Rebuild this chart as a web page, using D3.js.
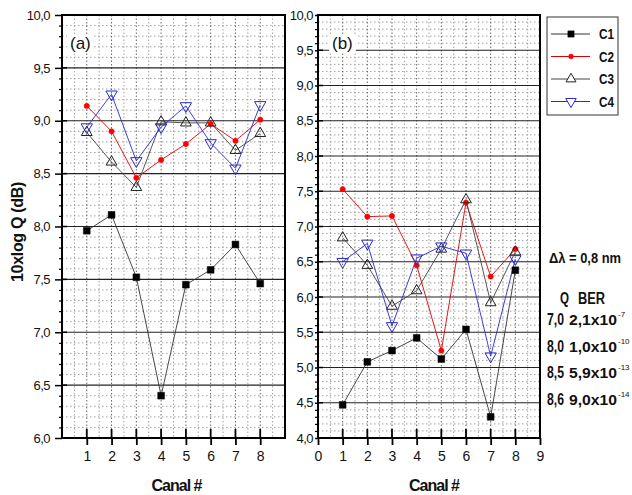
<!DOCTYPE html>
<html>
<head>
<meta charset="utf-8">
<script src="https://cdn.jsdelivr.net/npm/d3@7"></script>
<style>
  body { margin: 0; background: #fff; }
  svg, svg text { font-family: "Liberation Sans", Arial, sans-serif; }
</style>
</head>
<body>
<div id="chart"></div>
<script>
// values
const channels = [1, 2, 3, 4, 5, 6, 7, 8];
const seriesNames = ["C1", "C2", "C3", "C4"];

const c1a = [7.96, 8.11, 7.52, 6.40, 7.45, 7.59, 7.83, 7.46];
const c2a = [9.14, 8.90, 8.46, 8.63, 8.78, 8.97, 8.81, 9.01];
const c3a = [8.89, 8.61, 8.37, 8.99, 8.98, 8.98, 8.72, 8.88];
const c4a = [8.94, 9.25, 8.62, 8.94, 9.14, 8.79, 8.55, 9.15];

const c1b = [4.47, 5.08, 5.24, 5.42, 5.12, 5.54, 4.30, 6.38];
const c2b = [7.53, 7.14, 7.15, 6.45, 5.24, 7.34, 6.29, 6.68];
const c3b = [6.84, 6.45, 5.87, 6.09, 6.68, 7.38, 5.92, 6.64];
const c4b = [6.50, 6.76, 5.59, 6.55, 6.72, 6.62, 5.16, 6.54];

const yTicksA = [6.0, 6.5, 7.0, 7.5, 8.0, 8.5, 9.0, 9.5, 10.0];
const yTicksB = [4.0, 4.5, 5.0, 5.5, 6.0, 6.5, 7.0, 7.5, 8.0, 8.5, 9.0, 9.5, 10.0];
const xTicksA = [1, 2, 3, 4, 5, 6, 7, 8];
const xTicksB = [0, 1, 2, 3, 4, 5, 6, 7, 8, 9];

const deltaLambda = "0,8 nm";
const qValues = ["7,0", "8,0", "8,5", "8,6"];
const berMantissa = ["2,1x10", "1,0x10", "5,9x10", "9,0x10"];
const berExponent = ["-7", "-10", "-13", "-14"];

// styles per series
const seriesStyle = {
    C1: {line: "#333", stroke: "#000", fill: "#000", symbol: d3.symbolSquare, size: 46, rot: 0},
    C2: {line: "#e00000", stroke: "#ff0000", fill: "#ff0000", symbol: d3.symbolCircle, size: 22, rot: 0},
    C3: {line: "#444", stroke: "#222", fill: "none", symbol: d3.symbolTriangle, size: 50, rot: 0},
    C4: {line: "#2a2ad0", stroke: "#2a2ad0", fill: "none", symbol: d3.symbolTriangle, size: 56, rot: 180}
};

const font = "'Liberation Sans', Arial, sans-serif";
const width = 632, height = 495;
const plotTop = 15, plotBottom = 438;

const svg = d3.select("#chart").append("svg")
    .attr("width", width)
    .attr("height", height);

const fmt = d => d3.format(".1f")(d).replace(".", ",");

function drawPanel(p) {
    const x = d3.scaleLinear().domain([0, 9]).range([p.left, p.right]);
    const y = d3.scaleLinear().domain(p.yDomain).range([plotBottom, plotTop]);
    const g = svg.append("g");

    // minor horizontal grid every 0.1
    const minorY = d3.range(p.yDomain[0] * 10, p.yDomain[1] * 10 + 1)
        .map(d => d / 10)
        .filter(d => Math.round(d * 10) % 5 !== 0);
    g.selectAll(".minor-h").data(minorY).enter().append("line")
        .attr("x1", p.left).attr("x2", p.right)
        .attr("y1", d => y(d)).attr("y2", d => y(d))
        .attr("stroke", "#8a8a8a").attr("stroke-width", 0.8)
        .attr("stroke-dasharray", "1.5,2.5");

    // vertical dotted grid at halves and integers
    const halfX = d3.range(1, 18).map(d => d / 2);
    g.selectAll(".grid-v").data(halfX).enter().append("line")
        .attr("x1", d => x(d)).attr("x2", d => x(d))
        .attr("y1", plotTop).attr("y2", plotBottom)
        .attr("stroke", d => Number.isInteger(d) ? "#555" : "#999")
        .attr("stroke-width", 0.9)
        .attr("stroke-dasharray", "1.5,2");

    // major horizontal lines
    g.selectAll(".major-h").data(p.yTicks.slice(1, -1)).enter().append("line")
        .attr("x1", p.left).attr("x2", p.right)
        .attr("y1", d => y(d)).attr("y2", d => y(d))
        .attr("stroke", "#222").attr("stroke-width", 1.2);

    // series lines
    const line = d3.line().x((d, i) => x(channels[i])).y(d => y(d));
    p.data.forEach((vals, k) => {
        const st = seriesStyle[seriesNames[k]];
        g.append("path").datum(vals)
            .attr("d", line)
            .attr("fill", "none")
            .attr("stroke", st.line)
            .attr("stroke-width", 0.9);
    });

    // markers
    p.data.forEach((vals, k) => {
        const st = seriesStyle[seriesNames[k]];
        g.selectAll(".m" + k).data(vals).enter().append("path")
            .attr("d", d3.symbol().type(st.symbol).size(st.size))
            .attr("transform", (d, i) => `translate(${x(channels[i])},${y(d)}) rotate(${st.rot})`)
            .attr("fill", st.fill === "none" ? "none" : st.fill)
            .attr("stroke", st.stroke)
            .attr("stroke-width", st.fill === "none" ? 1 : 0.5);
    });

    // y axis with minor ticks
    const minorAxis = d3.axisLeft(y).tickValues(minorY).tickSize(3).tickFormat("");
    g.append("g").attr("transform", `translate(${p.left},0)`).call(minorAxis)
        .call(s => s.select(".domain").remove())
        .selectAll("line").attr("stroke", "#000").attr("stroke-width", 1.2);

    const yAxis = d3.axisLeft(y).tickValues(p.yTicks).tickFormat(fmt)
        .tickSize(p.tickOut).tickPadding(p.pad);
    const ya = g.append("g").attr("transform", `translate(${p.left},0)`).call(yAxis)
        .attr("font-family", font);
    ya.select(".domain").remove();
    ya.selectAll("line").attr("stroke", "#000").attr("stroke-width", 1.5);
    ya.selectAll("text").attr("font-size", 13).attr("fill", "#111").attr("letter-spacing", -0.5);

    // inner part of major y ticks
    g.selectAll(".in-y").data(p.yTicks).enter().append("line")
        .attr("x1", p.left).attr("x2", p.left + 5)
        .attr("y1", d => y(d)).attr("y2", d => y(d))
        .attr("stroke", "#000").attr("stroke-width", 1.5);

    // x axis
    const xAxis = d3.axisBottom(x).tickValues(p.xTicks).tickFormat(d3.format("d"))
        .tickSize(7).tickPadding(6);
    const xa = g.append("g").attr("transform", `translate(0,${plotBottom})`).call(xAxis)
        .attr("font-family", font);
    xa.select(".domain").remove();
    xa.selectAll("line").attr("stroke", "#000").attr("stroke-width", 1.8);
    xa.selectAll("text").attr("font-size", 14).attr("fill", "#111");

    g.selectAll(".in-x").data(p.xTicks).enter().append("line")
        .attr("x1", d => x(d)).attr("x2", d => x(d))
        .attr("y1", plotBottom).attr("y2", plotBottom - 9)
        .attr("stroke", "#000").attr("stroke-width", 1.8);

    // frame
    g.append("rect")
        .attr("x", p.left).attr("y", plotTop)
        .attr("width", p.right - p.left).attr("height", plotBottom - plotTop)
        .attr("fill", "none").attr("stroke", "#000").attr("stroke-width", 2);

    // panel label on a white patch
    const lab = g.append("text")
        .attr("x", p.left + p.labelDx).attr("y", 49)
        .attr("font-size", 17).attr("fill", "#111")
        .text(p.label);
    const bb = lab.node().getBBox();
    g.append("rect")
        .attr("x", bb.x - 3).attr("y", bb.y).attr("width", bb.width + 6).attr("height", bb.height)
        .attr("fill", "#fff");
    lab.raise();

    // x title
    g.append("text")
        .attr("x", (p.left + p.right) / 2 + p.titleDx).attr("y", 491)
        .attr("text-anchor", "middle")
        .attr("font-size", 16).attr("font-weight", "bold").attr("letter-spacing", -1)
        .attr("fill", "#111")
        .text("Canal #");
}

drawPanel({left: 62, right: 285, yDomain: [6, 10], yTicks: yTicksA, xTicks: xTicksA,
    data: [c1a, c2a, c3a, c4a], label: "(a)", labelDx: 8, tickOut: 7, pad: 5, titleDx: 3});
drawPanel({left: 318, right: 540, yDomain: [4, 10], yTicks: yTicksB, xTicks: xTicksB,
    data: [c1b, c2b, c3b, c4b], label: "(b)", labelDx: 14, tickOut: 3, pad: 2, titleDx: 5});

// y title
svg.append("text")
    .attr("transform", "translate(23,232) rotate(-90)")
    .attr("text-anchor", "middle")
    .attr("font-size", 16).attr("font-weight", "bold").attr("fill", "#111")
    .attr("letter-spacing", -0.3)
    .text("10xlog Q (dB)");

// legend
const legend = svg.append("g");
legend.append("rect")
    .attr("x", 547).attr("y", 17).attr("width", 71).attr("height", 98)
    .attr("fill", "#fff").attr("stroke", "#333").attr("stroke-width", 1);
seriesNames.forEach((name, i) => {
    const st = seriesStyle[name];
    const cy = 34 + i * 22.5;
    legend.append("line")
        .attr("x1", 551).attr("x2", 590).attr("y1", cy).attr("y2", cy)
        .attr("stroke", st.line).attr("stroke-width", 1);
    legend.append("path")
        .attr("d", d3.symbol().type(st.symbol).size(st.size * 0.85))
        .attr("transform", `translate(571,${cy}) rotate(${st.rot})`)
        .attr("fill", st.fill === "none" ? "#fff" : st.fill)
        .attr("stroke", st.stroke).attr("stroke-width", st.fill === "none" ? 1 : 0.5);
    legend.append("text")
        .attr("x", 599).attr("y", cy + 5)
        .attr("font-size", 14).attr("font-weight", "bold").attr("fill", "#111")
        .attr("textLength", 15).attr("lengthAdjust", "spacingAndGlyphs")
        .text(name);
});

// annotation text (condensed bold, fitted to the widths in the figure)
const note = svg.append("g").attr("font-weight", "bold").attr("fill", "#111");
const fit = (txt, x, y, size, len) => note.append("text")
    .attr("x", x).attr("y", y).attr("font-size", size)
    .attr("textLength", len).attr("lengthAdjust", "spacingAndGlyphs")
    .text(txt);
fit("\u0394\u03bb = " + deltaLambda, 549, 263, 14, 72);
fit("Q", 560, 304, 16, 9);
fit("BER", 578, 304, 16, 27);
qValues.forEach((q, i) => {
    const yb = 325 + i * 26.7;
    fit(q, 547, yb, 16, 17);
    fit(berMantissa[i], 569, yb, 15, 48);
    note.append("text")
        .attr("x", 618).attr("y", yb - 8).attr("font-size", 8).attr("font-weight", "normal")
        .text(berExponent[i]);
});
</script>
</body>
</html>
